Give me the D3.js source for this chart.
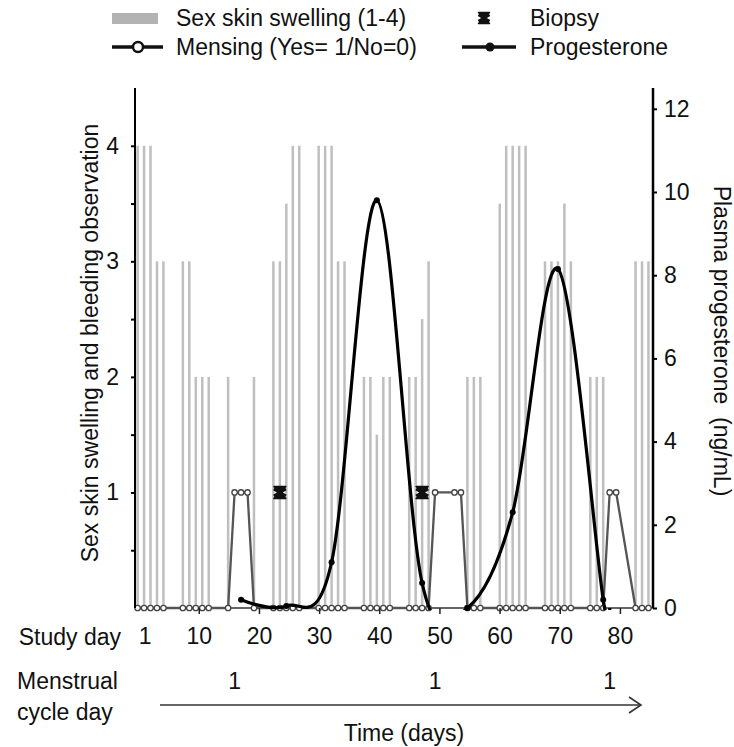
<!DOCTYPE html>
<html><head><meta charset="utf-8">
<script src="https://cdn.jsdelivr.net/npm/d3@7"></script>
<style>
body{margin:0;background:#fff}
svg{display:block;font-family:"Liberation Sans",Arial,sans-serif}
</style>
</head><body><svg id="c" width="734" height="747"></svg>
<script>
// ---- data ----
const obsDays = [1,2,3,4,5, 8,9,10,11,12, 15,16,17,18,19, 22,23,24,25,26, 29,30,31,32,33,
  36,37,38,39,40, 43,44,45,46,47, 50,51,52,53,54, 57,58,59,60,61, 64,65,66,67,68,
  71,72,73,74,75, 78,79,80];
const swelling = [4,4,4,3,3, 3,3,2,2,2, 2,0,0,0,2, 3,3,3.5,4,4, 4,4,4,3,3,
  2,2,1.5,2,2, 2,2,2.5,3,0, 0,0,2,2,2, 3.5,4,4,4,4, 3,3,3,3.5,3,
  2,2,2,0,0, 3,3,3];
const mensing = [0,0,0,0,0, 0,0,0,0,0, 0,1,1,1,0, 0,0,0,0,0, 0,0,0,0,0,
  0,0,0,0,0, 0,0,0,0,1, 1,1,0,0,0, 0,0,0,0,0, 0,0,0,0,0,
  0,0,0,1,1, 0,0,0];
const biopsyDays = [23, 45];
const biopsyValue = 1;
const progDays = [17,24,31,38,45,52,59,66,73,74];
const progValues = [0.2,0.05,1.1,9.8,0.6,0.0,2.3,8.15,0.2,0.0];
const progMarked = [17,24,31,38,45,52,59,66,73];
const studyDayTicks = [1,10,20,30,40,50,60,70,80];
const leftTicks = [0.5,1,1.5,2,2.5,3,3.5,4];
const rightTicks = [0,2,4,6,8,10,12];
const cycleDayOneDays = [16,47,74];

// ---- layout ----
const L = 135, R = 653, T = 88, B = 608;
const svg = d3.select("#c");
const FS = 23;

const obsX = d3.scaleLinear().domain([0.6, 80.7]).range([L, R]);
const dayX = d3.scaleLinear().domain([-0.6, 85.5]).range([L, R]);
const yL = d3.scaleLinear().domain([0, 4.5]).range([B, T]);
const yR = d3.scaleLinear().domain([0, 12.5]).range([B, T]);

svg.append("defs").append("clipPath").attr("id","plotclip")
  .append("rect").attr("x",L).attr("y",T).attr("width",R-L).attr("height",B-T+2);

// bars
const barData = obsDays.map((d,i)=>({d, v:swelling[i]})).filter(o=>o.v>0);
svg.append("g").selectAll("rect").data(barData).join("rect")
  .attr("x", o=>obsX(o.d)-1.25).attr("width", 2.5)
  .attr("y", o=>yL(o.v)).attr("height", o=>yL(0)-yL(o.v))
  .attr("fill", "#bfbfbf");

// baseline
svg.append("line").attr("x1",L).attr("x2",R).attr("y1",B).attr("y2",B)
  .attr("stroke","#333").attr("stroke-width",1.5);

// mensing line
const mData = obsDays.map((d,i)=>({d, v:mensing[i]}));
svg.append("path").datum(mData)
  .attr("d", d3.line().x(o=>obsX(o.d)).y(o=>yL(o.v)))
  .attr("fill","none").attr("stroke","#555").attr("stroke-width",2.3);
svg.append("g").selectAll("circle").data(mData).join("circle")
  .attr("cx", o=>obsX(o.d)).attr("cy", o=>yL(o.v)).attr("r", 2.7)
  .attr("fill","#fff").attr("stroke","#444").attr("stroke-width",1.3);

// biopsy marker
function biopsyPath(s){
  return `M${-s},${-s}H${s}L${-s},${s}H${s}Z`;
}
function drawBiopsy(g, s){
  g.append("path").attr("d", biopsyPath(s)).attr("fill","#111")
    .attr("stroke","#111").attr("stroke-width",1.5).attr("stroke-linejoin","round");
  g.append("path").attr("d", `M${-s},${-s*0.6}L${s},${s*0.6}M${s},${-s*0.6}L${-s},${s*0.6}`)
    .attr("stroke","#111").attr("stroke-width",3);
}
biopsyDays.forEach(d=>{
  drawBiopsy(svg.append("g").attr("transform",`translate(${obsX(d)},${yL(biopsyValue)})`), 6);
});

// progesterone (smoothed, clipped to the plot area)
const pData = progDays.map((d,i)=>({d, v:progValues[i]}));
svg.append("path").datum(pData).attr("clip-path","url(#plotclip)")
  .attr("d", d3.line().curve(d3.curveCatmullRom.alpha(0)).x(o=>obsX(o.d)).y(o=>yR(o.v)))
  .attr("fill","none").attr("stroke","#000").attr("stroke-width",3.2);
svg.append("g").selectAll("circle").data(pData.filter(o=>progMarked.includes(o.d))).join("circle")
  .attr("cx", o=>obsX(o.d)).attr("cy", o=>yR(o.v)).attr("r", 3)
  .attr("fill","#000");

// left axis
const la = svg.append("g").attr("transform",`translate(${L},0)`)
  .call(d3.axisLeft(yL).tickValues(leftTicks).tickSize(4).tickPadding(12)
    .tickFormat(v=>Number.isInteger(v)?String(v):""));
la.select(".domain").remove();
la.append("line").attr("x1",0).attr("x2",0).attr("y1",T).attr("y2",B)
  .attr("stroke","#000").attr("stroke-width",2);
la.selectAll(".tick line").attr("stroke","#000").attr("stroke-width",2);
la.selectAll("text").attr("font-size",FS).attr("fill","#111").attr("font-family","Liberation Sans, Arial, sans-serif");

// right axis
const ra = svg.append("g").attr("transform",`translate(${R},0)`)
  .call(d3.axisRight(yR).tickValues(rightTicks).tickSize(4).tickPadding(7));
ra.select(".domain").remove();
ra.append("line").attr("x1",0).attr("x2",0).attr("y1",T).attr("y2",B)
  .attr("stroke","#000").attr("stroke-width",2.5);
ra.selectAll(".tick line").attr("stroke","#000").attr("stroke-width",2);
ra.selectAll("text").attr("font-size",FS).attr("fill","#111").attr("font-family","Liberation Sans, Arial, sans-serif");

// bottom study day axis
const ba = svg.append("g").attr("transform",`translate(0,${B})`)
  .call(d3.axisBottom(dayX).tickValues(studyDayTicks).tickSize(6).tickPadding(14));
ba.select(".domain").remove();
ba.selectAll(".tick line").attr("stroke","#222").attr("stroke-width",1.5)
  .attr("display", d=>d===1?"none":null);
ba.selectAll("text").attr("font-size",FS).attr("fill","#111").attr("font-family","Liberation Sans, Arial, sans-serif");

const txt = (x,y,s,anchor="start",size=FS)=>svg.append("text").attr("x",x).attr("y",y)
  .attr("text-anchor",anchor).attr("font-size",size).attr("fill","#111").text(s);

txt(121, 645, "Study day", "end");
txt(17, 689, "Menstrual");
txt(17, 720, "cycle day");
svg.append("g").selectAll("text").data(cycleDayOneDays).join("text")
  .attr("x", d=>obsX(d)).attr("y", 689).attr("text-anchor","middle")
  .attr("font-size",FS).attr("fill","#111").text("1");

// arrow
svg.append("line").attr("x1",160).attr("x2",641).attr("y1",705).attr("y2",705)
  .attr("stroke","#333").attr("stroke-width",1.6);
svg.append("path").attr("d","M629,697L641,705L629,713").attr("fill","none")
  .attr("stroke","#333").attr("stroke-width",1.6);
txt(404, 741, "Time (days)", "middle");

// axis titles
svg.append("text").attr("transform","translate(98,343) rotate(-90)")
  .attr("text-anchor","middle").attr("font-size",FS).attr("fill","#111")
  .text("Sex skin swelling and bleeding observation");
svg.append("text").attr("transform","translate(714,341) rotate(90)")
  .attr("text-anchor","middle").attr("font-size",FS).attr("fill","#111")
  .style("white-space","pre")
  .text("Plasma progesterone  (ng/mL)");

// legend
svg.append("rect").attr("x",112).attr("y",13).attr("width",46).attr("height",11).attr("fill","#b3b3b3");
txt(176, 26, "Sex skin swelling (1-4)");
drawBiopsy(svg.append("g").attr("transform","translate(484,18)"), 5.5);
txt(530, 26, "Biopsy");
svg.append("line").attr("x1",112).attr("x2",163).attr("y1",47).attr("y2",47)
  .attr("stroke","#111").attr("stroke-width",3.5);
svg.append("circle").attr("cx",138).attr("cy",47).attr("r",5)
  .attr("fill","#fff").attr("stroke","#111").attr("stroke-width",2.5);
txt(176, 55, "Mensing (Yes= 1/No=0)");
svg.append("line").attr("x1",462).attr("x2",516).attr("y1",47).attr("y2",47)
  .attr("stroke","#111").attr("stroke-width",3.5);
svg.append("circle").attr("cx",490).attr("cy",47).attr("r",4.5).attr("fill","#111");
txt(530, 55, "Progesterone");
</script>
</body></html>
